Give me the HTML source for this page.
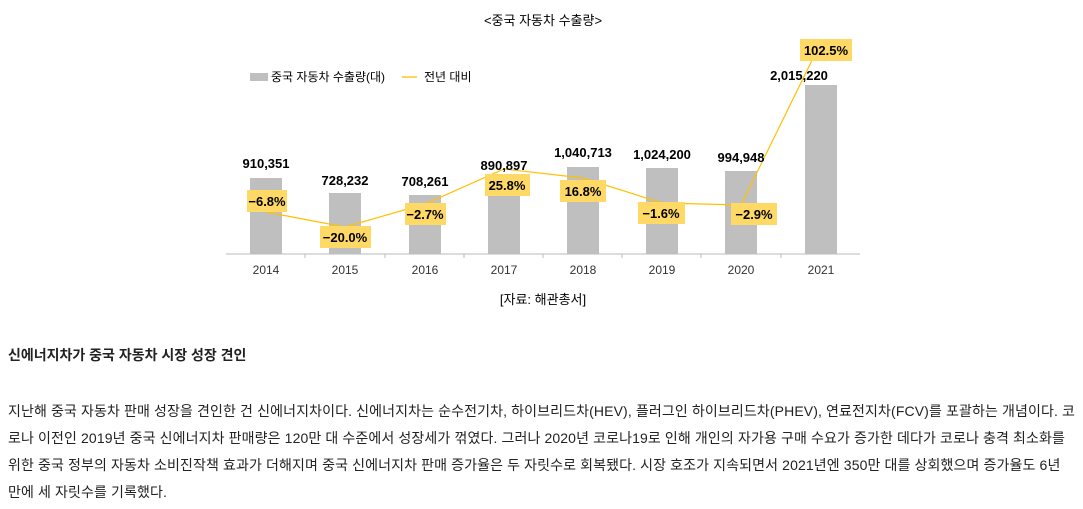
<!DOCTYPE html>
<html><head><meta charset="utf-8"><style>
body{margin:0;width:1083px;height:509px;background:#fff;overflow:hidden;font-family:"Liberation Sans","Noto Sans CJK KR",sans-serif;color:#222}
svg{position:absolute;left:0;top:0}
svg text{font-family:"Liberation Sans","Noto Sans CJK KR",sans-serif}
.h{position:absolute;left:8px;top:345px;font-size:14px;font-weight:bold}
.p{position:absolute;left:8px;top:398px;font-size:14px;line-height:27px;white-space:nowrap;letter-spacing:0.12px}
</style></head><body>
<svg width="1083" height="330">
<text x="543" y="25" font-size="13" text-anchor="middle">&lt;중국 자동차 수출량&gt;</text>
<rect x="250" y="73" width="18" height="8" fill="#bfbfbf"/>
<text x="271" y="81" font-size="12">중국 자동차 수출량(대)</text>
<line x1="402" y1="77" x2="417" y2="77" stroke="#ffc000" stroke-width="1.3"/>
<text x="424" y="81" font-size="12">전년 대비</text>
<g fill="#bfbfbf">
<rect x="250" y="178" width="32" height="76"/>
<rect x="329" y="193" width="32" height="61"/>
<rect x="409" y="195" width="32" height="59"/>
<rect x="488" y="180" width="32" height="74"/>
<rect x="567" y="167" width="32" height="87"/>
<rect x="646" y="168" width="32" height="86"/>
<rect x="725" y="171" width="32" height="83"/>
<rect x="805" y="85" width="32" height="169"/>
</g>
<line x1="226" y1="254" x2="860" y2="254" stroke="#bbb"/>
<g stroke="#bbb"><line x1="305" y1="254" x2="305" y2="258"/><line x1="385" y1="254" x2="385" y2="258"/><line x1="464" y1="254" x2="464" y2="258"/><line x1="543" y1="254" x2="543" y2="258"/><line x1="622" y1="254" x2="622" y2="258"/><line x1="701" y1="254" x2="701" y2="258"/><line x1="781" y1="254" x2="781" y2="258"/></g>
<polyline points="266,212 345,227 425,204 504,169 583,178 662,203 741,205 821,42" fill="none" stroke="#ffc000" stroke-width="1.2"/>
<g font-size="13" font-weight="bold" text-anchor="middle">
<text x="266" y="168">910,351</text><text x="345" y="185">728,232</text><text x="425" y="186">708,261</text><text x="504" y="170">890,897</text><text x="583" y="157">1,040,713</text><text x="662" y="159">1,024,200</text><text x="741" y="162">994,948</text><text x="799" y="80">2,015,220</text>
</g>
<g fill="#ffd966">
<rect x="247" y="190" width="40" height="22"/><rect x="320" y="226" width="51" height="22"/><rect x="405" y="203" width="41" height="22"/><rect x="485" y="174" width="45" height="22"/><rect x="560" y="180" width="46" height="22"/><rect x="638" y="202" width="47" height="22"/><rect x="731" y="203" width="46" height="22"/><rect x="800" y="39" width="52" height="22"/>
</g>
<g font-size="13" font-weight="bold" text-anchor="middle">
<text x="267" y="206">−6.8%</text><text x="345" y="242">−20.0%</text><text x="425" y="219">−2.7%</text><text x="507" y="190">25.8%</text><text x="583" y="196">16.8%</text><text x="661" y="218">−1.6%</text><text x="754" y="219">−2.9%</text><text x="826" y="55">102.5%</text>
</g>
<g font-size="12" text-anchor="middle" fill="#333">
<text x="266" y="274">2014</text><text x="345" y="274">2015</text><text x="425" y="274">2016</text><text x="504" y="274">2017</text><text x="583" y="274">2018</text><text x="662" y="274">2019</text><text x="741" y="274">2020</text><text x="821" y="274">2021</text>
</g>
<text x="543" y="304" font-size="13" text-anchor="middle">[자료: 해관총서]</text>
</svg>
<div class="h">신에너지차가 중국 자동차 시장 성장 견인</div>
<div class="p">지난해 중국 자동차 판매 성장을 견인한 건 신에너지차이다. 신에너지차는 순수전기차, 하이브리드차(HEV), 플러그인 하이브리드차(PHEV), 연료전지차(FCV)를 포괄하는 개념이다. 코<br>로나 이전인 2019년 중국 신에너지차 판매량은 120만 대 수준에서 성장세가 꺾였다. 그러나 2020년 코로나19로 인해 개인의 자가용 구매 수요가 증가한 데다가 코로나 충격 최소화를<br>위한 중국 정부의 자동차 소비진작책 효과가 더해지며 중국 신에너지차 판매 증가율은 두 자릿수로 회복됐다. 시장 호조가 지속되면서 2021년엔 350만 대를 상회했으며 증가율도 6년<br>만에 세 자릿수를 기록했다.</div>
</body></html>
